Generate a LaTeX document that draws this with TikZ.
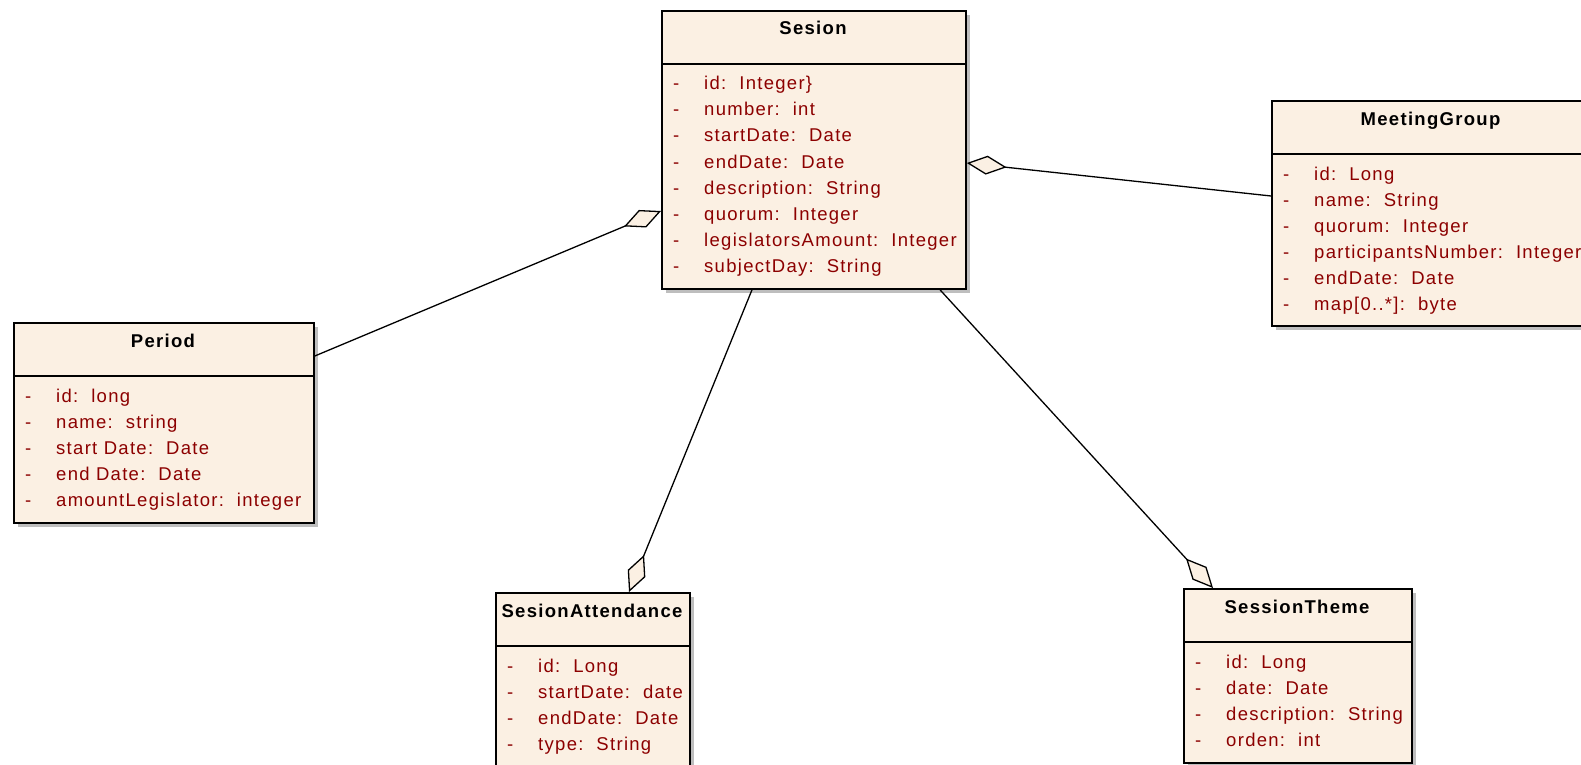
\documentclass[tikz,border=0pt]{standalone}
\usepackage{fontspec}
\setmainfont{Liberation Sans}
\newfontfamily\umlfont{Liberation Sans}[LetterSpace=7]
\usetikzlibrary{arrows.meta}

\definecolor{classfill}{RGB}{251,240,227}
\definecolor{attrred}{RGB}{140,0,0}
\definecolor{shadowgray}{RGB}{190,190,190}

\tikzset{
  classrect/.style={draw=black, line width=1.8pt, fill=classfill, rectangle,
    inner sep=0pt, anchor=north west},
  titletext/.style={font=\umlfont\fontsize{18.5}{20}\selectfont\bfseries,
    inner sep=0pt, anchor=base},
  attrtext/.style={font=\umlfont\fontsize{18.5}{20}\selectfont, text=attrred,
    inner sep=0pt, anchor=base west},
  assoc/.style={line width=1.3pt,
    arrows={Diamond[length=40pt,width=19pt,fill=classfill]-}},
}

% class box: name, title, left, top, right, bottom
\newcommand\umlclass[6]{%
  \fill[shadowgray] ({#3+5},{#4+5}) rectangle ({#5+5},{#6+5});
  \node[classrect, minimum width={#5-#3}, minimum height={#6-#4}] (#1) at (#3,#4) {};
  \draw[line width=1.8pt] ({#3},{#4+54}) -- ({#5},{#4+54});
  \node[titletext] (#1-title) at ({(#3+#5)/2},{#4+25}) {#2};
}
% attribute rows: name, left, top, list of attr/type
\newcommand\umlattrs[4]{%
  \foreach \attrname/\attrtype [count=\i] in {#4} {
    \node[attrtext] (#1-d\i) at ({#2+12},{#3+80+(\i-1)*26}) {-};
    \node[attrtext] (#1-a\i) at ({#2+43},{#3+80+(\i-1)*26})
      {\attrname:\hspace{13pt}\attrtype};
  }
}

\begin{document}
\begin{tikzpicture}[x=1pt,y=-1pt]
\useasboundingbox (0,0) rectangle (1581,765);
\clip (0,0) rectangle (1581,765);

\umlclass{sesion}{Sesion}{661}{10}{965}{288}
\umlattrs{sesion}{661}{10}{id/Integer\}, number/int, startDate/Date, endDate/Date,
  description/String, quorum/Integer, legislatorsAmount/Integer, subjectDay/String}

\umlclass{meeting}{MeetingGroup}{1271}{100}{1590}{325}
\umlattrs{meeting}{1271}{100}{id/Long, name/String, quorum/Integer,
  participantsNumber/Integer, endDate/Date, map[0..*]/byte}

\umlclass{period}{Period}{13}{322}{313}{522}
\umlattrs{period}{13}{322}{id/long, name/string, start Date/Date, end Date/Date,
  amountLegislator/integer}

\umlclass{attend}{SesionAttendance}{495}{592}{689}{800}
\umlattrs{attend}{495}{592}{id/Long, startDate/date, endDate/Date, type/String}

\umlclass{theme}{SessionTheme}{1183}{588}{1411}{762}
\umlattrs{theme}{1183}{588}{id/Long, date/Date, description/String, orden/int}

% aggregations
\draw[assoc] (sesion.west |- 0,211) -- (period.east |- 0,356);
\draw[assoc] (sesion.east |- 0,163) -- (meeting.west |- 0,196);
\draw[assoc] (attend.north -| 629,0) -- (sesion.south -| 752,0);
\draw[assoc] (theme.north -| 1213,0) -- (sesion.south -| 940,0);
\end{tikzpicture}
\end{document}
